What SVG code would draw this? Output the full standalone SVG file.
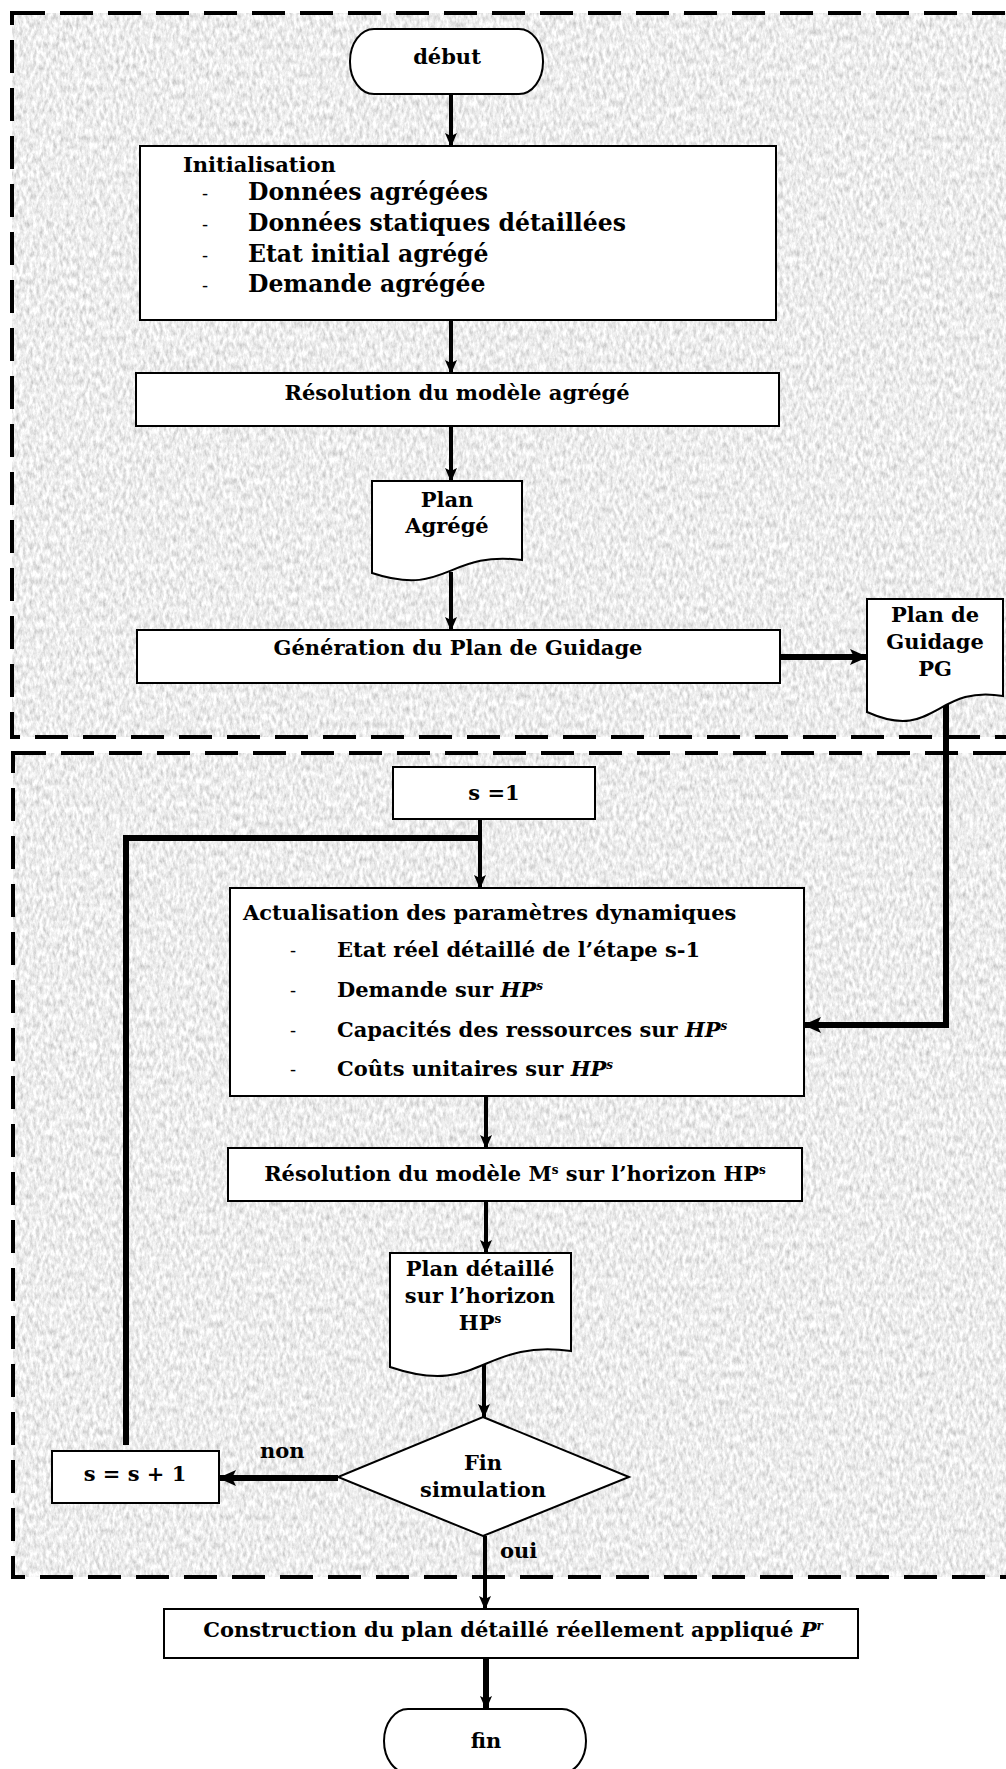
<svg xmlns="http://www.w3.org/2000/svg" width="1006" height="1769" viewBox="0 0 1006 1769">
<defs>
<filter id="paper" x="0" y="0" width="100%" height="100%" filterUnits="objectBoundingBox">
<feTurbulence type="fractalNoise" baseFrequency="0.3 0.14" numOctaves="4" seed="7" result="n"/>
<feColorMatrix in="n" type="matrix" values="0.75 0 0 0 0.47  0.75 0 0 0 0.47  0.75 0 0 0 0.47  0 0 0 0 1"/>
<feComposite in2="SourceGraphic" operator="in"/>
</filter>
<marker id="ah" viewBox="0 0 14 12" refX="13" refY="6" markerWidth="14" markerHeight="12" markerUnits="userSpaceOnUse" orient="auto">
<path d="M0,0 L14,6 L0,12 L3,6 Z" fill="#000"/>
</marker>
<marker id="ahb" viewBox="0 0 18 16" refX="17" refY="8" markerWidth="18" markerHeight="16" markerUnits="userSpaceOnUse" orient="auto">
<path d="M0,0 L18,8 L0,16 L4,8 Z" fill="#000"/>
</marker>
<style>
.box{fill:#fff;stroke:#000;stroke-width:2}
.t{font-family:"DejaVu Serif","Liberation Serif",serif;font-weight:bold;font-size:21px;fill:#000}
.c{text-anchor:middle}
.big{font-size:23.5px}
.it{font-style:italic}
.d{font-family:"DejaVu Serif","Liberation Serif",serif;font-weight:normal;font-size:18px;fill:#000}
.con{fill:none;stroke:#000;stroke-width:4}
.thick{fill:none;stroke:#000;stroke-width:6}
.dash{fill:none;stroke:#000;stroke-width:4;stroke-dasharray:33 15}
</style>
</defs>

<rect x="0" y="0" width="1006" height="1769" fill="#fff"/>
<g id="regions">
<rect x="12" y="13" width="1010" height="724" fill="#ccc" filter="url(#paper)"/>
<rect x="13" y="753" width="1010" height="824" fill="#ccc" filter="url(#paper)"/>
<rect class="dash" x="12" y="13" width="1010" height="724"/>
<rect class="dash" x="13" y="753" width="1010" height="824"/>
</g>

<g id="connectors">
<path class="con" d="M451,94 V146" marker-end="url(#ah)"/>
<path class="con" d="M451,320 V373" marker-end="url(#ah)"/>
<path class="con" d="M451,426 V481" marker-end="url(#ah)"/>
<path class="con" d="M451,572 V630" marker-end="url(#ah)"/>
<path class="thick" d="M780,657 H867" marker-end="url(#ahb)"/>
<path class="thick" d="M946,700 V1025 H804" marker-end="url(#ahb)"/>
<path class="con" d="M480,819 V888" marker-end="url(#ah)"/>
<path class="thick" d="M126,1445 V838 H480"/>
<path class="con" d="M486,1096 V1148" marker-end="url(#ah)"/>
<path class="con" d="M486,1201 V1253" marker-end="url(#ah)"/>
<path class="con" d="M484,1365 V1417" marker-end="url(#ah)"/>
<path class="thick" d="M338,1478 H219" marker-end="url(#ahb)"/>
<path class="con" d="M485,1536 V1609" marker-end="url(#ah)"/>
<path class="thick" d="M486,1658 V1709" marker-end="url(#ah)"/>
</g>

<g id="debut">
<rect class="box" x="350" y="29" width="193" height="65" rx="24" ry="32"/>
<text class="t c" x="447" y="64">début</text>
</g>

<g id="initialisation">
<rect class="box" x="140" y="146" width="636" height="174"/>
<text class="t" x="183" y="172">Initialisation</text>
<text class="d" x="202" y="200">-</text><text class="t big" x="248" y="200">Données agrégées</text>
<text class="d" x="202" y="231">-</text><text class="t big" x="248" y="231">Données statiques détaillées</text>
<text class="d" x="202" y="262">-</text><text class="t big" x="248" y="262">Etat initial agrégé</text>
<text class="d" x="202" y="292">-</text><text class="t big" x="248" y="292">Demande agrégée</text>
</g>

<g id="resolution-agrege">
<rect class="box" x="136" y="373" width="643" height="53"/>
<text class="t c" x="457" y="400">Résolution du modèle agrégé</text>
</g>

<g id="plan-agrege">
<path class="box" d="M372,481 H522 V560 C447,550.3 447,597.9 372,573 Z"/>
<text class="t c" x="447" y="507">Plan</text>
<text class="t c" x="447" y="533">Agrégé</text>
</g>

<g id="generation">
<rect class="box" x="137" y="630" width="643" height="53"/>
<text class="t c" x="458" y="655">Génération du Plan de Guidage</text>
</g>

<g id="plan-guidage">
<path class="box" d="M867,599 H1003 V696 C935,684.2 935,742.6 867,712 Z"/>
<text class="t c" x="935" y="622">Plan de</text>
<text class="t c" x="935" y="649">Guidage</text>
<text class="t c" x="935" y="676">PG</text>
</g>

<g id="s-init">
<rect class="box" x="393" y="767" width="202" height="52"/>
<text class="t c" x="494" y="800">s =1</text>
</g>

<g id="actualisation">
<rect class="box" x="230" y="888" width="574" height="208"/>
<text class="t" x="243" y="920">Actualisation des paramètres dynamiques</text>
<text class="d" x="290" y="957">-</text><text class="t" x="337" y="957">Etat réel détaillé de l’étape s-1</text>
<text class="d" x="290" y="997">-</text><text class="t" x="337" y="997">Demande sur <tspan class="it">HP</tspan><tspan class="it" font-size="12" dy="-7">s</tspan></text>
<text class="d" x="290" y="1037">-</text><text class="t" x="337" y="1037">Capacités des ressources sur <tspan class="it">HP</tspan><tspan class="it" font-size="12" dy="-7">s</tspan></text>
<text class="d" x="290" y="1076">-</text><text class="t" x="337" y="1076">Coûts unitaires sur <tspan class="it">HP</tspan><tspan class="it" font-size="12" dy="-7">s</tspan></text>
</g>

<g id="resolution-ms">
<rect class="box" x="228" y="1148" width="574" height="53"/>
<text class="t c" x="515" y="1181">Résolution du modèle M<tspan font-size="12" dy="-7">s</tspan><tspan dy="7"> sur l’horizon HP</tspan><tspan font-size="12" dy="-7">s</tspan></text>
</g>

<g id="plan-detaille">
<path class="box" d="M390,1253 H571 V1351 C480.5,1338.9 480.5,1397.8 390,1367 Z"/>
<text class="t c" x="480" y="1276">Plan détaillé</text>
<text class="t c" x="480" y="1303">sur l’horizon</text>
<text class="t c" x="480" y="1330">HP<tspan font-size="12" dy="-7">s</tspan></text>
</g>

<g id="fin-simulation">
<path class="box" d="M483,1417 L629,1477 L483,1536 L338,1477 Z"/>
<text class="t c" x="483" y="1470">Fin</text>
<text class="t c" x="483" y="1497">simulation</text>
</g>

<g id="s-incr">
<rect class="box" x="52" y="1451" width="167" height="52"/>
<text class="t c" x="135" y="1481">s = s + 1</text>
</g>

<g id="labels">
<text class="t" x="260" y="1458">non</text>
<text class="t" x="500" y="1558">oui</text>
</g>

<g id="construction">
<rect class="box" x="164" y="1609" width="694" height="49"/>
<text class="t c" x="513" y="1637">Construction du plan détaillé réellement appliqué <tspan class="it">P</tspan><tspan class="it" font-size="12" dy="-7">r</tspan></text>
</g>

<g id="fin">
<rect class="box" x="384" y="1709" width="202" height="64" rx="24" ry="32"/>
<text class="t c" x="486" y="1748">fin</text>
</g>
</svg>
